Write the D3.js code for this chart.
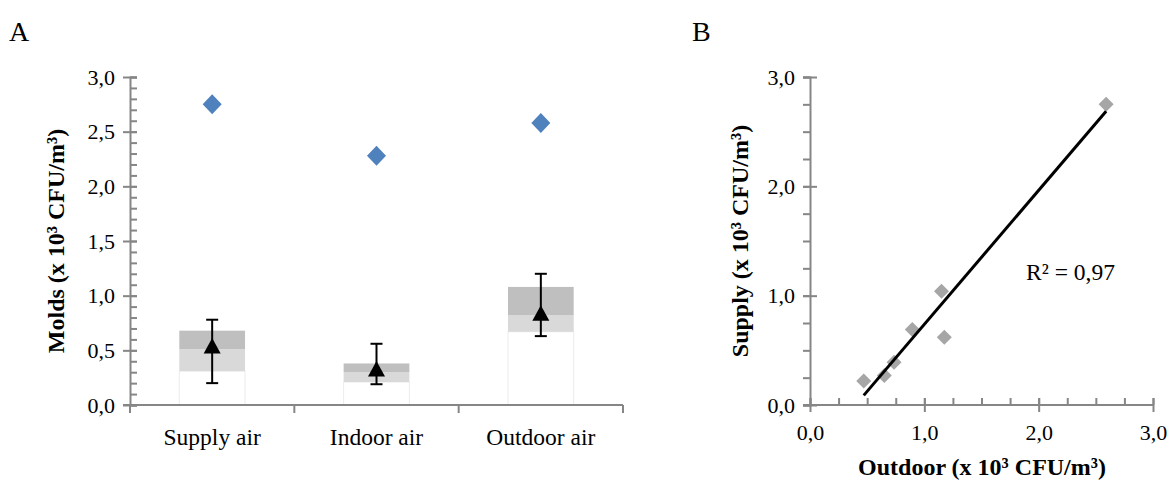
<!doctype html>
<html>
<head>
<meta charset="utf-8">
<script src="https://d3js.org/d3.v7.min.js"></script>
<style>
  body { margin: 0; background: #fff; }
  svg text { font-family: "Liberation Serif", "Times New Roman", serif; fill: #000; }
  .axis path, .axis line { stroke: #868686; stroke-width: 2; }
</style>
</head>
<body>
<svg width="1174" height="482"></svg>
<script>
// panel A data
const categories = ["Supply air", "Indoor air", "Outdoor air"];
const boxLow   = [0.31, 0.21, 0.67];   // white part top
const boxMid   = [0.51, 0.30, 0.82];   // light grey top
const boxHigh  = [0.68, 0.38, 1.08];   // dark grey top
const means    = [0.54, 0.33, 0.84];
const errLow   = [0.20, 0.19, 0.63];
const errHigh  = [0.78, 0.56, 1.20];
const maxima   = [2.75, 2.28, 2.58];
const yTicksA  = [0, 0.5, 1.0, 1.5, 2.0, 2.5, 3.0];

// panel B data
const outdoor  = [0.47, 0.65, 0.735, 0.895, 1.15, 1.175, 2.59];
const supply   = [0.22, 0.27, 0.39, 0.69, 1.04, 0.62, 2.75];
const ticksB   = [0, 1.0, 2.0, 3.0];
const r2Label  = "R² = 0,97";

const svg = d3.select("svg");
const fmt = d => d3.format(".1f")(d).replace(".", ",");

// ---------- panel A ----------
const xA = d3.scaleBand().domain(categories).range([130, 623]).paddingInner(0.6).paddingOuter(0.3);
const yA = d3.scaleLinear().domain([0, 3]).range([405, 77]);

svg.append("text").attr("x", 9).attr("y", 41).style("font-size", "28px").text("A");

// boxes
const gA = svg.append("g");
categories.forEach((c, i) => {
  const x0 = xA(c), w = xA.bandwidth();
  gA.append("rect").attr("x", x0).attr("width", w)
    .attr("y", yA(boxLow[i])).attr("height", yA(0) - yA(boxLow[i]))
    .attr("fill", "#fff").attr("stroke", "#ececec").attr("stroke-width", 1);
  gA.append("rect").attr("x", x0).attr("width", w)
    .attr("y", yA(boxMid[i])).attr("height", yA(boxLow[i]) - yA(boxMid[i]))
    .attr("fill", "#d9d9d9");
  gA.append("rect").attr("x", x0).attr("width", w)
    .attr("y", yA(boxHigh[i])).attr("height", yA(boxMid[i]) - yA(boxHigh[i]))
    .attr("fill", "#bfbfbf");
  const cx = x0 + w / 2;
  // error bar
  gA.append("line").attr("x1", cx).attr("x2", cx).attr("y1", yA(errLow[i])).attr("y2", yA(errHigh[i]))
    .attr("stroke", "#000").attr("stroke-width", 2);
  [errLow[i], errHigh[i]].forEach(v => {
    gA.append("line").attr("x1", cx - 6).attr("x2", cx + 6).attr("y1", yA(v)).attr("y2", yA(v))
      .attr("stroke", "#000").attr("stroke-width", 2);
  });
  // mean triangle
  gA.append("path")
    .attr("transform", `translate(${cx},${yA(means[i])})`)
    .attr("d", "M0,-8L8.5,7.5L-8.5,7.5Z").attr("fill", "#000");
  // max diamond
  gA.append("path")
    .attr("transform", `translate(${cx},${yA(maxima[i])})`)
    .attr("d", "M0,-10L9.5,0L0,10L-9.5,0Z").attr("fill", "#4f81bd");
});

// y axis A
const ayA = svg.append("g").attr("class", "axis").attr("transform", "translate(130,0)");
ayA.call(d3.axisLeft(yA).tickValues(d3.range(0, 3.01, 0.1)).tickSize(-7).tickFormat(""));
ayA.selectAll(".tick line").attr("x1", 0);
const ayA2 = svg.append("g").attr("class", "axis").attr("transform", "translate(130,0)");
ayA2.call(d3.axisLeft(yA).tickValues(yTicksA).tickSize(7).tickFormat(fmt).tickPadding(8));
ayA2.selectAll(".tick line").attr("x1", 7);
ayA2.selectAll("text").style("font-size", "22px");
ayA2.select(".domain").remove();

// x axis A
const axA = svg.append("g").attr("class", "axis").attr("transform", "translate(0,405)");
axA.call(d3.axisBottom(xA).tickSize(0).tickSizeOuter(0).tickPadding(23));
axA.select(".domain").attr("d", "M123,0H623");
axA.selectAll("text").style("font-size", "23.5px");
const step = xA.step();
axA.selectAll(".divider").data(d3.range(categories.length + 1)).enter().append("line")
  .attr("x1", i => 130 + i * step).attr("x2", i => 130 + i * step)
  .attr("y1", 0).attr("y2", 8);

svg.append("text")
  .attr("transform", "translate(64,241) rotate(-90)")
  .attr("text-anchor", "middle").style("font-size", "24px").style("font-weight", "bold")
  .text("Molds (x 10³ CFU/m³)");

// ---------- panel B ----------
const xB = d3.scaleLinear().domain([0, 3]).range([810, 1153]);
const yB = d3.scaleLinear().domain([0, 3]).range([405, 77]);

svg.append("text").attr("x", 692).attr("y", 41).style("font-size", "28px").text("B");

const minorB = d3.range(0, 3.01, 0.25);
const ayB = svg.append("g").attr("class", "axis").attr("transform", "translate(810,0)");
ayB.call(d3.axisLeft(yB).tickValues(minorB).tickSize(7).tickFormat(""));
const ayB2 = svg.append("g").attr("class", "axis").attr("transform", "translate(810,0)");
ayB2.call(d3.axisLeft(yB).tickValues(ticksB).tickSize(7).tickFormat(fmt).tickPadding(8));
ayB2.selectAll(".tick line").attr("x1", 7);
ayB2.selectAll("text").style("font-size", "22px");
ayB2.select(".domain").remove();

const axB = svg.append("g").attr("class", "axis").attr("transform", "translate(0,405)");
axB.call(d3.axisBottom(xB).tickValues(minorB).tickSize(-7).tickSizeOuter(0).tickFormat(""));
axB.select(".domain").attr("d", "M803,0H1153");
const axB2 = svg.append("g").attr("class", "axis").attr("transform", "translate(0,405)");
axB2.call(d3.axisBottom(xB).tickValues(ticksB).tickSize(7).tickFormat(fmt).tickPadding(12));
axB2.selectAll(".tick line").attr("y1", -7);
axB2.selectAll("text").style("font-size", "22px");
axB2.select(".domain").remove();

// points
svg.append("g").selectAll("path").data(outdoor).enter().append("path")
  .attr("transform", (d, i) => `translate(${xB(d)},${yB(supply[i])})`)
  .attr("d", "M0,-7.5L7.5,0L0,7.5L-7.5,0Z").attr("fill", "#a6a6a6");

// linear trend line from the points
const mx = d3.mean(outdoor), my = d3.mean(supply);
const slope = d3.sum(outdoor, (d, i) => (d - mx) * (supply[i] - my)) / d3.sum(outdoor, d => (d - mx) * (d - mx));
const icpt = my - slope * mx;
const x0 = d3.min(outdoor), x1 = d3.max(outdoor);
svg.append("line")
  .attr("x1", xB(x0)).attr("y1", yB(icpt + slope * x0))
  .attr("x2", xB(x1)).attr("y2", yB(icpt + slope * x1))
  .attr("stroke", "#000").attr("stroke-width", 3);

svg.append("text").attr("x", xB(1.89)).attr("y", yB(1.14))
  .style("font-size", "23.5px").text(r2Label);

svg.append("text")
  .attr("transform", "translate(748,241) rotate(-90)")
  .attr("text-anchor", "middle").style("font-size", "24px").style("font-weight", "bold")
  .text("Supply (x 10³ CFU/m³)");

svg.append("text")
  .attr("x", 982).attr("y", 475)
  .attr("text-anchor", "middle").style("font-size", "24px").style("font-weight", "bold")
  .text("Outdoor (x 10³ CFU/m³)");
</script>
</body>
</html>
